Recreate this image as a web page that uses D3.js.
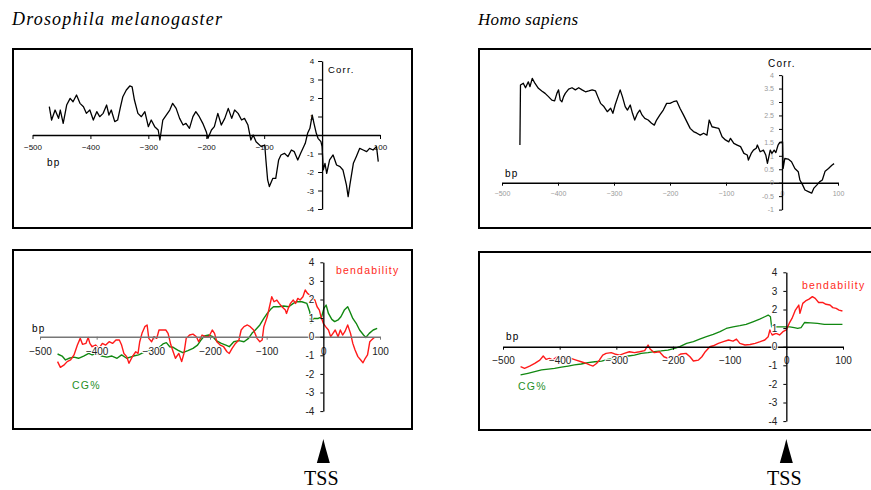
<!DOCTYPE html>
<html>
<head>
<meta charset="utf-8">
<script src="https://cdn.jsdelivr.net/npm/d3@7"></script>
<style>
  body { margin: 0; background: #fff; }
  svg { display: block; }
  .tick text { font-family: "Liberation Sans", Arial, sans-serif; }
</style>
</head>
<body>
<svg id="chart" width="871" height="490"></svg>
<script>
// x positions (bp) shared by all four panels
var bpTicks = [-500, -400, -300, -200, -100, 0, 100];

// Drosophila melanogaster - correlation
var dmCorrBp = [-471,-467,-461,-455,-452,-447,-441,-435,-430,-424,-418,-412,-407,-401,-395,-389,-384,-378,-372,-368,-364,-358,-353,-348,-344,-338,-332,-328,-324,-318,-312,-306,-300,-295,-289,-283,-280,-275,-269,-263,-258,-252,-246,-240,-235,-229,-223,-218,-212,-206,-200,-197,-191,-186,-180,-174,-168,-162,-156,-151,-145,-139,-134,-128,-123,-119,-114,-105,-99,-97,-94,-91,-85,-80,-75,-71,-65,-59,-53,-48,-42,-37,-33,-29,-25,-21,-17,-14,-10,-7,-2,0,2,5,8,13,19,25,31,36,42,45,48,54,59,65,71,77,82,88,94,97];
var dmCorrVal = [1.53,0.81,1.35,0.9,1.35,0.63,1.62,1.98,1.8,2.16,1.71,1.53,1.17,1.35,0.81,1.26,0.99,1.17,1.62,1.08,1.35,0.72,0.81,1.53,2.07,2.43,2.65,2.6,1.89,1.17,0.99,1.26,0.45,0.81,0.45,0.27,-0.27,0.81,1.08,1.35,1.71,1.44,0.9,0.54,0.63,0.36,0.99,1.26,0.99,0.63,0.18,-0.18,0.27,0.45,1.17,0.54,0.9,1.44,0.9,1.35,1.17,0.81,0.9,0.54,-0.27,0,-0.36,-0.63,-0.54,-1.35,-2.43,-2.79,-2.34,-2.34,-1.35,-1.08,-0.99,-1.17,-0.81,-0.9,-1.35,-0.99,-0.72,-0.45,0.09,0.36,1.08,0.63,0.09,-0.18,-0.36,-0.63,-1.89,-1.53,-2.07,-1.35,-1.08,-1.62,-1.71,-1.89,-2.7,-3.33,-2.7,-1.53,-1.17,-0.72,-0.81,-0.9,-0.72,-0.81,-0.63,-1.44];

// Homo sapiens - correlation
var hsCorrBp = [-468,-467,-462,-458,-453,-450,-446,-441,-435,-429,-423,-417,-411,-406,-402,-399,-396,-393,-390,-387,-381,-375,-369,-363,-357,-351,-345,-339,-333,-329,-324,-318,-312,-306,-302,-298,-293,-289,-285,-280,-276,-271,-267,-263,-258,-254,-250,-245,-239,-233,-228,-224,-218,-212,-206,-200,-194,-188,-182,-176,-170,-164,-158,-152,-146,-140,-134,-130,-125,-119,-113,-107,-101,-95,-92,-86,-80,-74,-68,-62,-60,-55,-51,-46,-44,-39,-33,-29,-26,-21,-18,-14,-11,-7,-4,1,2,5,11,17,23,29,32,37,41,47,53,57,62,67,72,77,83,89,93];
var hsCorrVal = [1.40,3.63,3.70,3.53,3.75,3.57,3.88,3.69,3.51,3.41,3.32,3.2,3.07,3.04,3.32,3.45,3.07,3.01,3.2,3.32,3.48,3.53,3.45,3.53,3.45,3.38,3.41,3.45,3.41,3.2,2.95,2.83,2.64,2.77,2.58,2.89,3.2,3.45,3.2,2.83,2.7,2.89,2.58,2.33,2.58,2.7,2.52,2.39,2.33,2.21,2.14,2.33,2.52,2.7,2.95,2.95,3.01,3.04,2.76,2.52,2.27,2.02,1.9,1.84,1.77,1.84,1.77,2.33,2.08,2.05,2.02,1.71,1.59,1.52,1.65,1.46,1.4,1.34,1.09,1.03,0.84,1.09,1.21,1.28,1.4,1.15,1.21,1.03,0.72,1.21,1.09,1.21,1.12,1.4,1.5,1.52,0.53,0.9,0.88,0.78,0.53,0.41,0.1,-0.09,-0.27,-0.33,-0.39,-0.2,-0.09,0.03,0.1,0.43,0.53,0.65,0.71];

// Drosophila - bendability and CG%
var dmBendBp = [-469,-464,-458,-452,-446,-440,-434,-429,-425,-419,-415,-412,-408,-402,-396,-390,-384,-378,-372,-366,-360,-356,-352,-347,-343,-337,-331,-327,-324,-320,-315,-311,-308,-303,-299,-294,-290,-284,-278,-274,-269,-265,-261,-255,-250,-246,-242,-236,-230,-224,-220,-214,-208,-202,-196,-192,-188,-182,-176,-170,-166,-161,-155,-149,-145,-140,-134,-129,-123,-117,-112,-108,-105,-99,-95,-91,-87,-82,-78,-73,-67,-65,-62,-58,-53,-49,-45,-41,-36,-32,-28,-24,-19,-15,-11,-7,-4,0,4,9,13,17,21,26,30,34,38,43,48,52,56,61,66,70,74,78,82,85,90];
var dmBendVal = [-1.34,-1.65,-1.53,-1.34,-1.25,-0.98,-0.45,-0.09,-0.41,-0.36,-0.04,-0.36,-0.54,-0.45,-0.63,-0.36,-0.45,-0.27,-0.36,-0.18,-0.18,-0.45,-0.9,-1.07,-1.43,-1.07,-0.81,-0.9,-0.27,0.18,0.54,0.63,-0.09,-0.27,0,-0.09,0.36,0.36,0.36,0.18,-0.45,-0.81,-1.16,-0.9,-1.34,-0.9,-0.09,0.09,0.14,0,-0.27,0.09,0,0,0.36,0.18,-0.27,-0.45,-0.54,-0.81,-0.9,-0.63,-0.36,-0.18,0.36,0.54,0.63,0.54,0.36,-0.09,-0.27,-0.18,0.54,1.07,1.61,2.15,1.88,1.97,1.79,1.61,1.43,1.25,1.52,1.79,1.97,1.79,2.06,1.97,2.15,2.51,2.33,2.24,2.06,1.97,1.61,1.43,1.07,0.72,0.54,0.36,0,0.18,0.36,0,0.36,0.09,0.27,0.63,0.18,-0.36,-0.72,-1.07,-1.25,-1.4,-1.16,-0.98,-0.27,-0.18,-0.04];
var dmCgBp = [-469,-461,-455,-449,-440,-432,-423,-414,-408,-400,-391,-382,-373,-364,-356,-347,-335,-326,-318,-309,-300,-292,-283,-277,-271,-265,-257,-248,-239,-230,-222,-216,-210,-202,-195,-189,-180,-172,-166,-158,-149,-140,-132,-126,-120,-112,-105,-99,-93,-88,-79,-70,-61,-53,-47,-38,-29,-24,-22,-17,-9,-3,1,5,9,15,20,26,31,37,43,47,52,58,64,71,75,81,88,95];
var dmCgVal = [-0.93,-1.04,-1.25,-1.16,-1.1,-1.16,-1.04,-0.9,-0.98,-0.9,-1.04,-1.1,-1.04,-1.16,-0.98,-1.16,-1.04,-0.98,-0.86,-0.75,-0.68,-0.63,-0.39,-0.32,-0.54,-0.57,-0.72,-0.86,-0.75,-0.63,-0.45,-0.18,0.04,0.09,0,-0.21,-0.36,-0.45,-0.54,-0.27,-0.21,-0.27,-0.09,0.18,0.36,0.63,0.98,1.25,1.47,1.61,1.61,1.65,1.61,1.79,1.88,1.88,1.79,1.34,0.75,0.98,0.98,1.07,1.52,1.7,1.25,0.93,0.81,0.9,1.07,1.43,1.61,1.34,0.98,0.72,0.36,0.09,-0.04,0.18,0.36,0.45];

// Homo sapiens - bendability and CG%
var hsBendBp = [-469,-462,-453,-444,-435,-429,-424,-418,-412,-406,-397,-388,-380,-371,-362,-353,-347,-341,-335,-330,-324,-318,-309,-303,-294,-286,-277,-268,-259,-250,-244,-240,-233,-224,-216,-209,-203,-194,-186,-177,-170,-164,-155,-149,-143,-135,-129,-120,-111,-102,-94,-88,-82,-73,-64,-55,-46,-38,-32,-29,-25,-18,-12,-6,0,5,10,16,22,24,29,34,40,46,51,57,64,70,77,82,88,93,99];
var hsBendVal = [-1.07,-1.16,-1.04,-0.9,-0.72,-0.5,-0.68,-0.63,-0.72,-0.57,-0.63,-0.57,-0.63,-0.72,-0.81,-0.9,-0.98,-1.04,-0.9,-0.72,-0.45,-0.36,-0.32,-0.39,-0.45,-0.36,-0.27,-0.32,-0.27,-0.21,0.09,-0.14,-0.32,-0.27,-0.54,-0.63,-0.57,-0.54,-0.39,-0.36,-0.54,-0.77,-0.72,-0.54,-0.27,0,0.05,0.18,0.27,0.36,0.3,0.41,0.18,0.09,0.12,0.18,0.27,0.36,0.54,0.9,0.63,0.72,0.63,0.81,0.9,1.25,1.52,1.97,2.24,1.79,2.33,2.46,2.56,2.69,2.6,2.38,2.38,2.28,2.24,2.1,2.06,1.97,1.92];
var hsCgBp = [-469,-456,-444,-432,-420,-409,-397,-385,-374,-362,-350,-338,-326,-315,-303,-291,-279,-268,-256,-244,-233,-221,-209,-197,-188,-176,-164,-153,-141,-129,-117,-106,-94,-82,-71,-59,-47,-38,-32,-28,-26,-18,-6,6,14,20,26,32,43,55,67,79,90,99];
var hsCgVal = [-1.52,-1.43,-1.34,-1.25,-1.2,-1.16,-1.1,-1.04,-0.98,-0.93,-0.86,-0.81,-0.77,-0.68,-0.63,-0.57,-0.5,-0.45,-0.36,-0.32,-0.27,-0.23,-0.18,-0.09,0,0.18,0.27,0.41,0.54,0.66,0.81,0.98,1.07,1.13,1.2,1.34,1.48,1.61,1.7,1.61,1.07,1.07,1.07,1.07,1.02,0.98,1.02,1.3,1.28,1.25,1.2,1.2,1.2,1.2];

// y tick labels
var corrTicksDm = [-4, -3, -2, -1, 1, 2, 3, 4];
var corrTicksHs = [-1, -0.5, 0, 0.5, 1, 1.5, 2, 2.5, 3, 3.5, 4];
var bendTicks = [-4, -3, -2, -1, 0, 1, 2, 3, 4];

var svg = d3.select("#chart");
var sans = "'Liberation Sans', Arial, sans-serif";
var serif = "'Liberation Serif', 'Times New Roman', serif";

function drawPanel(p) {
  var x = d3.scaleLinear().domain([-500, 100]).range(p.xRange);
  var y = d3.scaleLinear().domain(p.yDomain).range(p.yRange);
  var g = svg.append("g");

  g.append("rect")
    .attr("x", p.box[0]).attr("y", p.box[1])
    .attr("width", p.box[2] - p.box[0]).attr("height", p.box[3] - p.box[1])
    .attr("fill", "none").attr("stroke", "#000").attr("stroke-width", 2);

  var line = d3.line()
    .x(function(d) { return x(d[0]); })
    .y(function(d) { return y(d[1]); });

  p.series.forEach(function(s) {
    g.append("path")
      .datum(d3.zip(s.bp, s.val))
      .attr("d", line)
      .attr("fill", "none")
      .attr("stroke", s.color)
      .attr("stroke-width", s.width)
      .attr("stroke-linejoin", "round");
  });

  // x axis through y = 0
  var xAxis = g.append("g")
    .attr("transform", "translate(0," + y(0) + ")")
    .call(d3.axisBottom(x)
      .tickValues(p.xTicks)
      .tickSize(p.tick)
      .tickSizeOuter(0)
      .tickPadding(p.xPad)
      .tickFormat(d3.format("d")));
  xAxis.select(".domain").attr("stroke", p.xAxisColor).attr("stroke-width", 1.5);
  xAxis.selectAll(".tick line").attr("stroke", p.xAxisColor);

  // y axis through bp = 0
  var yAxis = g.append("g")
    .attr("transform", "translate(" + x(0) + ",0)")
    .call(d3.axisLeft(y)
      .tickValues(p.yTicks)
      .tickSize(p.tick)
      .tickSizeOuter(0)
      .tickPadding(p.yPad)
      .tickFormat(function(d) { return d; }));
  yAxis.select(".domain").attr("stroke", "#000").attr("stroke-width", 1.3);

  g.selectAll(".tick text")
    .attr("font-size", p.fontSize)
    .attr("fill", p.labelColor)
    .attr("stroke", "#fff")
    .attr("stroke-width", p.halo)
    .attr("paint-order", "stroke");

  return { x: x, y: y };
}

// top left
drawPanel({
  box: [13, 49, 412, 228], xRange: [32.5, 380], yDomain: [-4, 4], yRange: [209, 61],
  xTicks: [-500, -400, -300, -200, -100, 100], yTicks: corrTicksDm,
  tick: 4, xPad: 5, yPad: 4, fontSize: 8, labelColor: "#111", halo: 0, xAxisColor: "#000",
  series: [{ bp: dmCorrBp, val: dmCorrVal, color: "#000", width: 1.3 }]
});

// top right
drawPanel({
  box: [479, 49, 876, 228], xRange: [502, 838], yDomain: [-1, 4], yRange: [209.6, 75.1],
  xTicks: bpTicks, yTicks: corrTicksHs,
  tick: 3, xPad: 5, yPad: 5, fontSize: 7, labelColor: "#9a9a9a", halo: 0, xAxisColor: "#000",
  series: [{ bp: hsCorrBp, val: hsCorrVal, color: "#000", width: 1.3 }]
});

// bottom left
var bl = drawPanel({
  box: [13, 250, 412, 429], xRange: [40, 380], yDomain: [-4, 4], yRange: [411.1, 262.3],
  xTicks: bpTicks, yTicks: bendTicks,
  tick: 3, xPad: 8, yPad: 6, fontSize: 10, labelColor: "#222", halo: 2, xAxisColor: "#777",
  series: [
    { bp: dmCgBp, val: dmCgVal, color: "#118811", width: 1.4 },
    { bp: dmBendBp, val: dmBendVal, color: "#ff1a1a", width: 1.4 }
  ]
});

// bottom right
var br = drawPanel({
  box: [479, 252, 876, 430], xRange: [503, 843], yDomain: [-4, 4], yRange: [421.1, 272.3],
  xTicks: bpTicks, yTicks: bendTicks,
  tick: 3, xPad: 7, yPad: 6, fontSize: 10, labelColor: "#222", halo: 2, xAxisColor: "#000",
  series: [
    { bp: hsCgBp, val: hsCgVal, color: "#118811", width: 1.3 },
    { bp: hsBendBp, val: hsBendVal, color: "#ff1a1a", width: 1.4 }
  ]
});

// titles
svg.append("text").attr("x", 12).attr("y", 25)
  .attr("font-family", serif).attr("font-style", "italic").attr("font-size", 18)
  .attr("textLength", 210).attr("lengthAdjust", "spacing")
  .text("Drosophila melanogaster");
svg.append("text").attr("x", 478).attr("y", 25)
  .attr("font-family", serif).attr("font-style", "italic").attr("font-size", 17)
  .attr("letter-spacing", 0.3)
  .text("Homo sapiens");

// small labels
var labels = [
  { t: "Corr.", x: 328, y: 73, c: "#000", s: 9.5 },
  { t: "Corr.", x: 768, y: 67, c: "#000", s: 10 },
  { t: "bp", x: 47, y: 166, c: "#000", s: 10 },
  { t: "bp", x: 505, y: 177, c: "#000", s: 10 },
  { t: "bp", x: 32, y: 332, c: "#000", s: 10 },
  { t: "bp", x: 506, y: 340, c: "#000", s: 10 },
  { t: "bendability", x: 336, y: 274, c: "#ff2a1a", s: 10.5 },
  { t: "bendability", x: 802, y: 289, c: "#ff2a1a", s: 10.5 },
  { t: "CG%", x: 72, y: 389, c: "#1f8f1f", s: 10.5 },
  { t: "CG%", x: 518, y: 390, c: "#1f8f1f", s: 10.5 }
];
svg.selectAll(".lbl")
  .data(labels)
  .enter().append("text")
    .attr("class", "lbl")
    .attr("x", function(d) { return d.x; })
    .attr("y", function(d) { return d.y; })
    .attr("fill", function(d) { return d.c; })
    .attr("font-size", function(d) { return d.s; })
    .attr("font-family", sans)
    .attr("letter-spacing", 1.2)
    .text(function(d) { return d.t; });

// TSS markers under bp = 0
[bl, br].forEach(function(p) {
  var cx = p.x(0);
  svg.append("path")
    .attr("d", "M" + cx + ",439 L" + (cx + 2) + ",447 L" + (cx + 6.5) + ",463 L" + (cx - 6.5) + ",463 L" + (cx - 2) + ",447 Z")
    .attr("fill", "#000");
  svg.append("text")
    .attr("x", cx - 2).attr("y", 485)
    .attr("text-anchor", "middle")
    .attr("font-family", serif).attr("font-size", 20)
    .text("TSS");
});
</script>
</body>
</html>
